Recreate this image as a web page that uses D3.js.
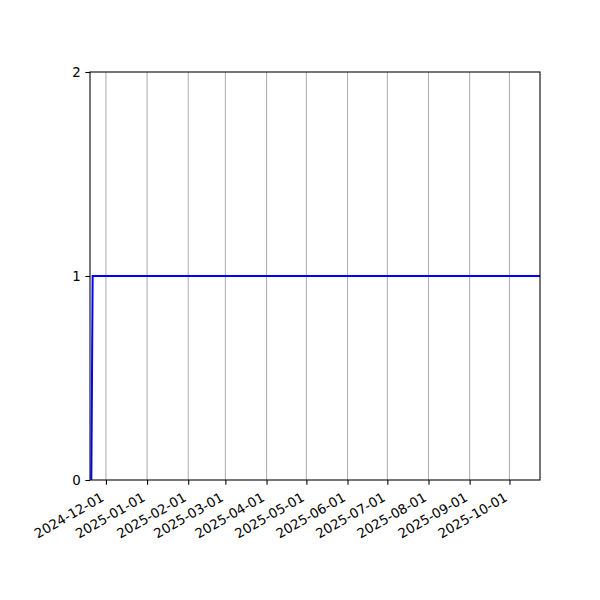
<!DOCTYPE html>
<html><head><meta charset="utf-8">
<script src="https://cdn.jsdelivr.net/npm/d3@7"></script>
<style>body{margin:0;background:#fff}svg{display:block}text{font-family:"DejaVu Sans",sans-serif}</style>
</head><body>
<script>
const dates = ["2024-11-20","2024-11-21","2025-10-24"];
const values = [0, 1, 1];
const xDomain = ["2024-11-19","2025-10-24"];
const yDomain = [0, 2];
const yTicks = [0, 1, 2];
const xTickDates = ["2024-12-01","2025-01-01","2025-02-01","2025-03-01","2025-04-01","2025-05-01","2025-06-01","2025-07-01","2025-08-01","2025-09-01","2025-10-01"];

const parse = d3.utcParse("%Y-%m-%d");
const fmt = d3.utcFormat("%Y-%m-%d");
const W = 600, H = 600;
const m = {l: 90, r: 60, t: 72, b: 120};
const svg = d3.select("body").append("svg").attr("width", W).attr("height", H);
const x = d3.scaleUtc().domain(xDomain.map(parse)).range([m.l, W - m.r]);
const y = d3.scaleLinear().domain(yDomain).range([H - m.b, m.t]);

// grid
svg.append("g").selectAll("line").data(xTickDates.map(parse)).join("line")
  .attr("x1", d => x(d)).attr("x2", d => x(d))
  .attr("y1", m.t).attr("y2", H - m.b)
  .attr("stroke", "#b0b0b0").attr("stroke-width", 1.07);

// line
const data = dates.map((d, i) => ({d: parse(d), v: values[i]}));
svg.append("path").datum(data)
  .attr("d", d3.line().x(p => x(p.d)).y(p => y(p.v)))
  .attr("fill", "none").attr("stroke", "#0000ff").attr("stroke-width", 2);

// frame
svg.append("rect").attr("x", m.l).attr("y", m.t)
  .attr("width", W - m.l - m.r).attr("height", H - m.t - m.b)
  .attr("fill", "none").attr("stroke", "#000").attr("stroke-width", 1.07);

// x axis
const xa = svg.append("g").attr("transform", `translate(0,${H - m.b})`)
  .call(d3.axisBottom(x).tickValues(xTickDates.map(parse)).tickFormat(fmt).tickSizeOuter(0).tickSize(4.67).tickPadding(4.7));
xa.select(".domain").remove();
xa.selectAll("line").attr("stroke-width", 1.07);
xa.selectAll("text").attr("font-size", 13.33).attr("fill", "#000")
  .attr("text-anchor", "end").attr("dy", null)
  .attr("y", 0).attr("x", 0)
  .attr("transform", "translate(-1.5,20) rotate(-30)");

// y axis
const ya = svg.append("g").attr("transform", `translate(${m.l},0)`)
  .call(d3.axisLeft(y).tickValues(yTicks).tickFormat(d3.format("d")).tickSizeOuter(0).tickSize(4.67).tickPadding(4.7));
ya.select(".domain").remove();
ya.selectAll("line").attr("stroke-width", 1.07);
ya.selectAll("text").attr("font-size", 13.33).attr("fill", "#000");
</script>
</body></html>
